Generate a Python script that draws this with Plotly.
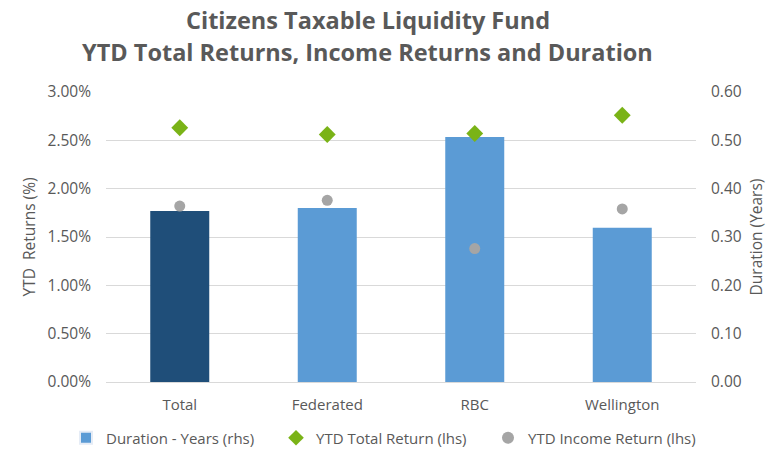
import plotly.graph_objects as go

categories = ["Total", "Federated", "RBC", "Wellington"]
duration_years = [0.354, 0.360, 0.507, 0.319]
ytd_total_return = [0.0263, 0.0256, 0.0257, 0.0276]
ytd_income_return = [0.0182, 0.0188, 0.0138, 0.0179]
bar_colors = ["#1F4E79", "#5B9BD5", "#5B9BD5", "#5B9BD5"]
title_lines = ["Citizens Taxable Liquidity Fund", "YTD Total Returns, Income Returns and Duration"]

text_color = "#595959"
font_family = "Open Sans, Liberation Sans, sans-serif"

W, H = 778, 449
M_L, M_R, M_T, M_B = 106, 82, 92, 67
plot_w = W - M_L - M_R
plot_h = H - M_T - M_B


def paper_y(px):
    return (H - M_B - px) / plot_h


def paper_x(px):
    return (px - M_L) / plot_w


fig = go.Figure()
fig.add_trace(go.Bar(
    x=categories, y=duration_years, name="Duration - Years (rhs)",
    marker=dict(color=bar_colors, line=dict(width=0)),
    width=0.4, yaxis="y", showlegend=False,
))
fig.add_trace(go.Bar(
    x=[None], y=[None], name="Duration - Years (rhs)",
    marker=dict(color="#5B9BD5"), yaxis="y", showlegend=True, legend="legend",
))
fig.add_trace(go.Scatter(
    x=categories, y=ytd_total_return, name="YTD Total Return (lhs)",
    mode="markers", marker=dict(symbol="diamond", size=13, color="#7AB317"),
    yaxis="y2", legend="legend2",
))
fig.add_trace(go.Scatter(
    x=categories, y=ytd_income_return, name="YTD Income Return (lhs)",
    mode="markers", marker=dict(symbol="circle", size=11, color="#A5A5A5"),
    yaxis="y2", legend="legend3",
))

legend_common = dict(
    orientation="h", xref="container", xanchor="left",
    yref="container", y=(H - 438) / H, yanchor="middle",
    font=dict(size=15, color=text_color), itemsizing="constant",
    bgcolor="rgba(0,0,0,0)", borderwidth=0,
)

fig.update_layout(
    width=W, height=H,
    margin=dict(l=M_L, r=M_R, t=M_T, b=M_B, autoexpand=False),
    paper_bgcolor="white", plot_bgcolor="white",
    font=dict(family=font_family, size=15, color=text_color),
    barmode="overlay",
    xaxis=dict(
        showgrid=False, showline=False, zeroline=False,
        ticks="", ticklabelstandoff=12,
        tickfont=dict(size=15, color=text_color),
    ),
    yaxis=dict(
        range=[0, 0.6], dtick=0.1, tickformat=".2f",
        side="right",
        showgrid=True, gridcolor="#D9D9D9", gridwidth=1,
        zeroline=True, zerolinecolor="#D9D9D9", zerolinewidth=1,
        showline=False,
        ticks="", ticklabelstandoff=14,
        tickfont=dict(size=15.5, color=text_color),
        title=dict(text="Duration (Years)", font=dict(size=15.5, color=text_color), standoff=10),
    ),
    yaxis2=dict(
        range=[0, 0.03], dtick=0.005, tickformat=".2%",
        overlaying="y", side="left", showgrid=False, zeroline=False,
        showline=False,
        ticks="", ticklabelstandoff=14,
        tickfont=dict(size=15.5, color=text_color),
        title=dict(text="YTD  Returns (%)", font=dict(size=15.5, color=text_color), standoff=8),
    ),
    legend=dict(legend_common, x=66 / W),
    legend2=dict(legend_common, x=276 / W),
    legend3=dict(legend_common, x=488 / W),
    annotations=[
        dict(text="<b>%s</b>" % title_lines[0], xref="paper", yref="paper",
             x=paper_x(368), y=paper_y(20), xanchor="center", yanchor="middle", showarrow=False,
             font=dict(size=23.5, color=text_color, family=font_family)),
        dict(text="<b>%s</b>" % title_lines[1], xref="paper", yref="paper",
             x=paper_x(367), y=paper_y(52), xanchor="center", yanchor="middle", showarrow=False,
             font=dict(size=23.5, color=text_color, family=font_family)),
    ],
)

fig.write_html("out.html", config={"displayModeBar": False},
               post_script="document.body.style.margin='0';")
